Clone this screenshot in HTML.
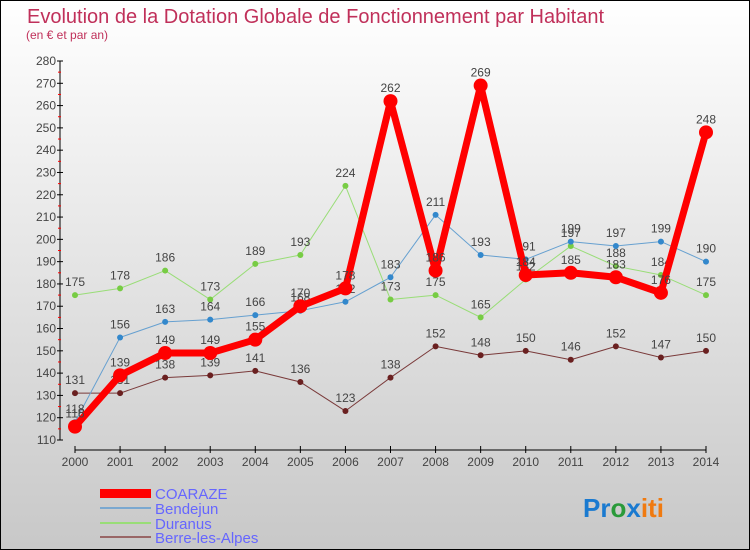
<!DOCTYPE html>
<html><head><meta charset="utf-8"><style>
body{margin:0}
svg{display:block;font-family:"Liberation Sans",sans-serif}
</style></head><body>
<svg id="c" width="750" height="550">
<defs><linearGradient id="bg" x1="0" y1="0" x2="0" y2="1"><stop offset="0" stop-color="#ffffff"/><stop offset="1" stop-color="#c8c8c8"/></linearGradient></defs>
<rect x="0.5" y="0.5" width="749" height="549" fill="url(#bg)" stroke="#000"/>
<text x="27" y="23" font-size="20" fill="#c0305a">Evolution de la Dotation Globale de Fonctionnement par Habitant</text>
<text x="26" y="39" font-size="12" fill="#c0305a">(en € et par an)</text>
<g id="axes"></g><g id="series"></g>
<g>
<rect x="100" y="489" width="51" height="9" fill="#f00"/>
<text x="155" y="499" font-size="15" fill="#6666ff">COARAZE</text>
<line x1="100" y1="508" x2="151" y2="508" stroke="#7aa8d0" stroke-width="2"/>
<text x="155" y="514" font-size="15" fill="#6666ff">Bendejun</text>
<line x1="100" y1="523" x2="151" y2="523" stroke="#99dd77" stroke-width="2"/>
<text x="155" y="529" font-size="15" fill="#6666ff">Duranus</text>
<line x1="100" y1="537" x2="151" y2="537" stroke="#996666" stroke-width="2"/>
<text x="155" y="543" font-size="15" fill="#6666ff">Berre-les-Alpes</text>
</g>
<text x="583" y="517" font-size="26" font-weight="bold"><tspan fill="#1a7ad0">Pr</tspan><tspan fill="#2a9a3a">o</tspan><tspan fill="#1a7ad0">x</tspan><tspan fill="#f07a10">iti</tspan></text>
</svg>
<script>
const years=[2000,2001,2002,2003,2004,2005,2006,2007,2008,2009,2010,2011,2012,2013,2014];
const yTicks=[110,120,130,140,150,160,170,180,190,200,210,220,230,240,250,260,270,280];
const coaraze=[116,139,149,149,155,170,178,262,186,269,184,185,183,176,248];
const bendejun=[118,156,163,164,166,168,172,183,211,193,191,199,197,199,190];
const duranus=[175,178,186,173,189,193,224,173,175,165,182,197,188,184,175];
const berre=[131,131,138,139,141,136,123,138,152,148,150,146,152,147,150];
const NS='http://www.w3.org/2000/svg';
const X=i=>75+i*(706-75)/14;
const Y=v=>440-(v-110)*(440-61)/170;
function mk(t,a,p){const e=document.createElementNS(NS,t);for(const k in a)e.setAttribute(k,a[k]);p.appendChild(e);return e;}
const ax=document.getElementById('axes');
let e=mk('line',{x1:60,y1:61,x2:60,y2:440,stroke:'#000','stroke-width':1},ax);


e=mk('line',{x1:75,y1:450,x2:706,y2:450,stroke:'#000','stroke-width':1},ax);


yTicks.forEach(v=>{
 mk('line',{x1:57,y1:Y(v),x2:63,y2:Y(v),stroke:'#000'},ax);
 if(v<280)mk('line',{x1:58,y1:Y(v+5),x2:61,y2:Y(v+5),stroke:'#f00'},ax);
 const t=mk('text',{x:56,y:Y(v)+4,'font-size':12,'text-anchor':'end',fill:'#444'},ax);t.textContent=v;
 
 
});
years.forEach((y,i)=>{
 mk('line',{x1:X(i),y1:446,x2:X(i),y2:453,stroke:'#000'},ax);
 const t=mk('text',{x:X(i),y:466,'font-size':12,'text-anchor':'middle',fill:'#444'},ax);t.textContent=y;
 
 
});
const sg=document.getElementById('series');
function series(name,data,color,dot,w,r){
 const g=mk('g',{},sg);
 
 
 const p=mk('polyline',{points:data.map((v,i)=>X(i)+','+Y(v)).join(' '),fill:'none',stroke:color,'stroke-width':w,'stroke-linejoin':'round'},g);
 
 
 data.forEach((v,i)=>{
  const c=mk('circle',{cx:X(i),cy:Y(v),r:r,fill:dot},g);
  
  
  const t=mk('text',{x:X(i),y:Y(v)-9,'font-size':12,'text-anchor':'middle',fill:'#444'},g);t.textContent=v;
  
  
 });
}
series('berre',berre,'#7a3a3a','#6a2020',1,3);
series('duranus',duranus,'#99dd77','#77cc44',1,3);
series('bendejun',bendejun,'#66a0d0','#3388cc',1,3);
series('coaraze',coaraze,'#f00','#f00',7,7);
</script>
</body></html>
